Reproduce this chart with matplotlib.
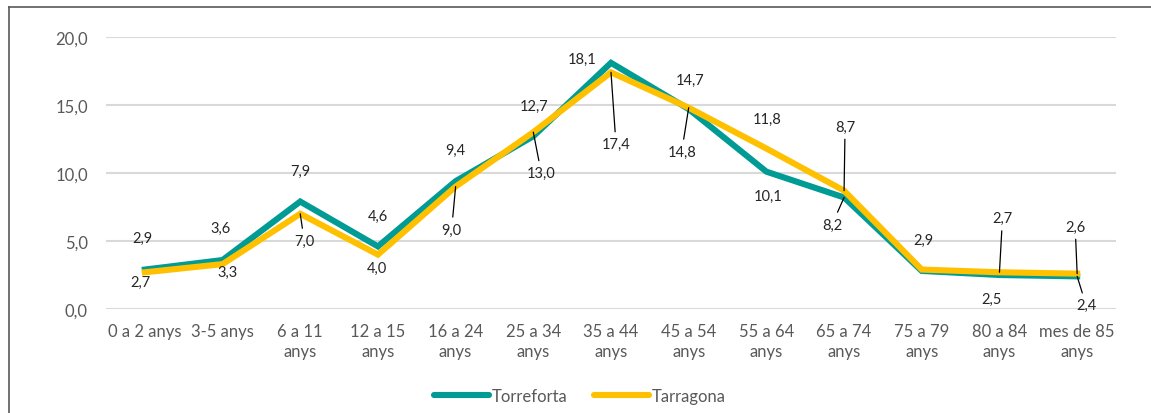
import matplotlib
matplotlib.use("Agg")
import matplotlib.pyplot as plt
from matplotlib.lines import Line2D

plt.rcParams['font.family'] = ['Lato', 'DejaVu Sans']

# data
groups = ["0 a 2 anys", "3-5 anys", "6 a 11\nanys", "12 a 15\nanys", "16 a 24\nanys",
          "25 a 34\nanys", "35 a 44\nanys", "45 a 54\nanys", "55 a 64\nanys",
          "65 a 74\nanys", "75 a 79\nanys", "80 a 84\nanys", "mes de 85\nanys"]
torreforta = [2.9, 3.6, 7.9, 4.6, 9.4, 12.7, 18.1, 14.7, 10.1, 8.2, 2.8, 2.5, 2.4]
tarragona = [2.7, 3.3, 7.0, 4.0, 9.0, 13.0, 17.4, 14.8, 11.8, 8.7, 2.9, 2.7, 2.6]

# label offsets in pixels (None = label hidden), leader flag
torre_off = [(-2, 32), (-2, 32), (0, 31), (0, 31), (0, 31), (1, 30), (-29, 4), (1, 29),
             (2, -24), (-12, -27), None, (-8, -24), (9, -29)]
torre_lead = [False] * 9 + [True, False, False, True]
tarr_off = [(-4, -10), (5, -8), (4, -27), (-1, -13), (-4, -43), (8, -41), (5, -72), (-7, -44),
            (1, 30), (1, 64), (2, 30), (3, 54), (-2, 47)]
tarr_lead = [False, False, True, False, True, True, True, True, False, True, False, True, True]

teal = "#009B95"
yellow = "#FFC000"

fig = plt.figure(figsize=(11.51, 4.14), dpi=100)
ax = fig.add_axes([106 / 1151, 104 / 414, 1010 / 1151, 272 / 414])

x = list(range(len(groups)))
ax.plot(x, torreforta, color=teal, lw=4.4, label="Torreforta", solid_joinstyle='miter', zorder=3)
ax.plot(x, tarragona, color=yellow, lw=4.4, label="Tarragona", solid_joinstyle='miter', zorder=4)

def add_labels(vals, offs, leads):
    for i, v in enumerate(vals):
        if offs[i] is None:
            continue
        dx, dy = offs[i]
        txt = f"{v:.1f}".replace(".", ",")
        ap = None
        if leads[i]:
            ap = dict(arrowstyle="-", color="black", lw=0.9, shrinkA=2, shrinkB=0)
        ax.annotate(txt, (i, v), xytext=(dx, dy), textcoords="offset pixels",
                    ha="center", va="center", fontsize=10.5, color="#262626",
                    arrowprops=ap, zorder=6)

add_labels(torreforta, torre_off, torre_lead)
add_labels(tarragona, tarr_off, tarr_lead)

ax.set_xlim(-0.5, len(groups) - 0.5)
ax.set_ylim(0, 20)
ax.set_yticks([0, 5, 10, 15, 20])
ax.set_yticklabels([f"{t:.1f}".replace(".", ",") for t in [0, 5, 10, 15, 20]])
ax.set_xticks(x)
ax.set_xticklabels(groups, linespacing=1.3)
ax.tick_params(axis="both", length=0, labelsize=12, colors="#595959")
ax.tick_params(axis="y", pad=13)
ax.tick_params(axis="x", pad=10)
ax.grid(axis="y", color="#D9D9D9", lw=1.5)
ax.set_axisbelow(True)
for s in ax.spines.values():
    s.set_visible(False)

leg = fig.legend(loc="center", bbox_to_anchor=(580 / 1151, 1 - 397 / 414), ncol=2, frameon=False,
                 fontsize=12, handlelength=3.3, handletextpad=0.15, columnspacing=1.6)
for t in leg.get_texts():
    t.set_color("#595959")
for h in leg.legend_handles:
    h.set_solid_capstyle("round")

# chart border (top and left)
fig.add_artist(Line2D([9 / 1151, 1.0], [1 - 8 / 414, 1 - 8 / 414], color="#595959", lw=1.2))
fig.add_artist(Line2D([9 / 1151, 9 / 1151], [0, 1 - 8 / 414], color="#595959", lw=1.2))

fig.savefig("out.png", dpi=100)
